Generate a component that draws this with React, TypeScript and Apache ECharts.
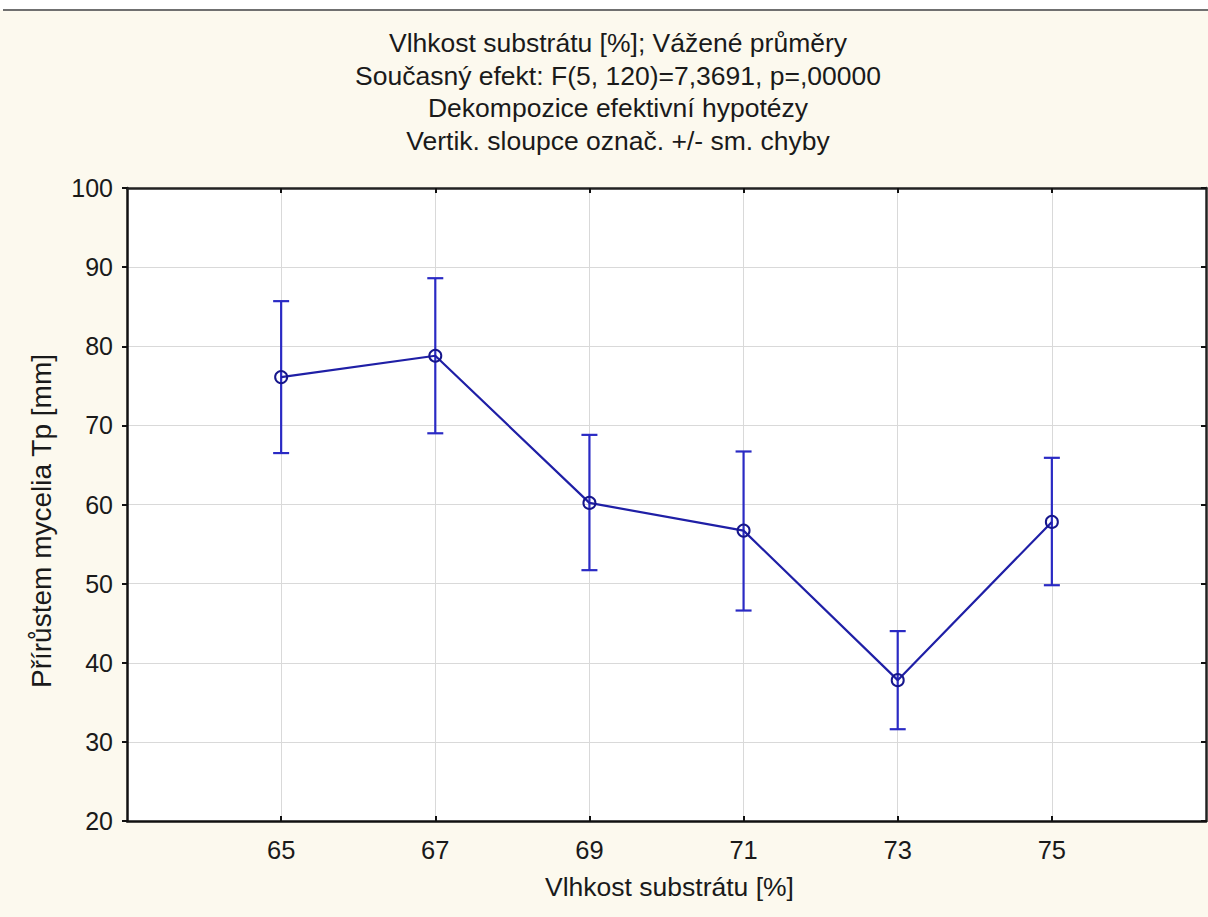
import React, { useEffect, useRef } from "react";
import * as echarts from "echarts";

const moisture = [65, 67, 69, 71, 73, 75];
const means = [76.1, 78.8, 60.2, 56.7, 37.8, 57.8];
const upper = [85.7, 88.6, 68.8, 66.7, 44.0, 65.9];
const lower = [66.5, 69.0, 51.7, 46.6, 31.6, 49.8];
const xTicks = [65, 67, 69, 71, 73, 75];
const titleLines = [
  "Vlhkost substrátu [%]; Vážené průměry",
  "Současný efekt: F(5, 120)=7,3691, p=,00000",
  "Dekompozice efektivní hypotézy",
  "Vertik. sloupce označ. +/- sm. chyby",
];
const xName = "Vlhkost substrátu [%]";
const yName = "Přírůstem mycelia Tp [mm]";

const FONT = "'Liberation Sans', Arial, sans-serif";
const TEXT = "#1a1a1a";

export default function App() {
  const ref = useRef<HTMLDivElement>(null);
  useEffect(() => {
    document.body.style.margin = "0";
    const chart = echarts.init(ref.current!, null, { renderer: "svg" });
    const titleY = [43, 75.5, 108, 140.5];
    const option: any = {
      animation: false,
      backgroundColor: "#fcf9ee",
      textStyle: { fontFamily: FONT },
      grid: {
        left: 127,
        right: 2,
        top: 188,
        bottom: 96,
        show: true,
        backgroundColor: "#ffffff",
        borderWidth: 0,
      },
      graphic: [
        { type: "rect", shape: { x: 0, y: 0, width: 1208, height: 10 }, style: { fill: "#ffffff" } },
        { type: "line", shape: { x1: 3, y1: 10, x2: 1208, y2: 10 }, style: { stroke: "#707070", lineWidth: 2 } },
        ...titleLines.map((t, i) => ({
          type: "text",
          x: 618,
          y: titleY[i],
          style: { text: t, fontSize: 26.5, fontFamily: FONT, fill: TEXT, align: "center", verticalAlign: "middle" },
        })),
        {
          type: "text",
          x: 41,
          y: 521,
          rotation: Math.PI / 2,
          style: { text: yName, fontSize: 28, fontFamily: FONT, fill: TEXT, align: "center", verticalAlign: "middle" },
        },
      ],
      xAxis: [
        {
          type: "value",
          min: 63,
          max: 77,
          position: "bottom",
          name: xName,
          nameLocation: "middle",
          nameGap: 52,
          nameTextStyle: { fontSize: 26.5, color: TEXT, fontFamily: FONT, padding: [0, 0, 0, 6] },
          axisLine: { show: true, onZero: false, lineStyle: { color: "#111", width: 2.5 } },
          axisTick: { show: true, inside: true, length: 5, customValues: xTicks, lineStyle: { color: "#111", width: 2 } },
          axisLabel: { customValues: xTicks, fontSize: 25.5, color: TEXT, margin: 16, fontFamily: FONT },
          splitLine: { show: true, lineStyle: { color: "#d9d9d9", width: 1 } },
        },
        {
          type: "value",
          min: 63,
          max: 77,
          position: "top",
          axisLine: { show: true, onZero: false, lineStyle: { color: "#222", width: 2.5 } },
          axisTick: { show: true, inside: true, length: 5, customValues: xTicks, lineStyle: { color: "#111", width: 2 } },
          axisLabel: { show: false },
          splitLine: { show: false },
        },
      ],
      yAxis: [
        {
          type: "value",
          min: 20,
          max: 100,
          interval: 10,
          position: "left",
          axisLine: { show: true, onZero: false, lineStyle: { color: "#111", width: 2.5 } },
          axisTick: { show: true, inside: false, length: 5, lineStyle: { color: "#111", width: 2 } },
          axisLabel: { fontSize: 25, color: TEXT, margin: 14, fontFamily: FONT },
          splitLine: { show: true, lineStyle: { color: "#d9d9d9", width: 1 } },
        },
        {
          type: "value",
          min: 20,
          max: 100,
          interval: 10,
          position: "right",
          axisLine: { show: true, onZero: false, lineStyle: { color: "#222", width: 2.5 } },
          axisTick: { show: true, inside: true, length: 5, lineStyle: { color: "#111", width: 2 } },
          axisLabel: { show: false },
          splitLine: { show: false },
        },
      ],
      series: [
        {
          type: "custom",
          xAxisIndex: 0,
          yAxisIndex: 0,
          data: moisture.map((x, i) => [x, lower[i], upper[i]]),
          renderItem: (params: any, api: any) => {
            const x = api.value(0);
            const lo = api.coord([x, api.value(1)]);
            const hi = api.coord([x, api.value(2)]);
            const hw = 8;
            const style = { stroke: "#2a2ac4", lineWidth: 2.2 };
            return {
              type: "group",
              children: [
                { type: "line", shape: { x1: hi[0], y1: hi[1], x2: lo[0], y2: lo[1] }, style },
                { type: "line", shape: { x1: hi[0] - hw, y1: hi[1], x2: hi[0] + hw, y2: hi[1] }, style },
                { type: "line", shape: { x1: lo[0] - hw, y1: lo[1], x2: lo[0] + hw, y2: lo[1] }, style },
              ],
            };
          },
          z: 2,
        },
        {
          type: "line",
          xAxisIndex: 0,
          yAxisIndex: 0,
          data: moisture.map((x, i) => [x, means[i]]),
          symbol: "circle",
          symbolSize: 12,
          lineStyle: { color: "#1f1fa6", width: 2.2 },
          itemStyle: { color: "transparent", borderColor: "#16168c", borderWidth: 2 },
          z: 3,
        },
      ],
    };
    chart.setOption(option);
    return () => chart.dispose();
  }, []);
  return <div ref={ref} style={{ width: 1208, height: 917 }} />;
}
